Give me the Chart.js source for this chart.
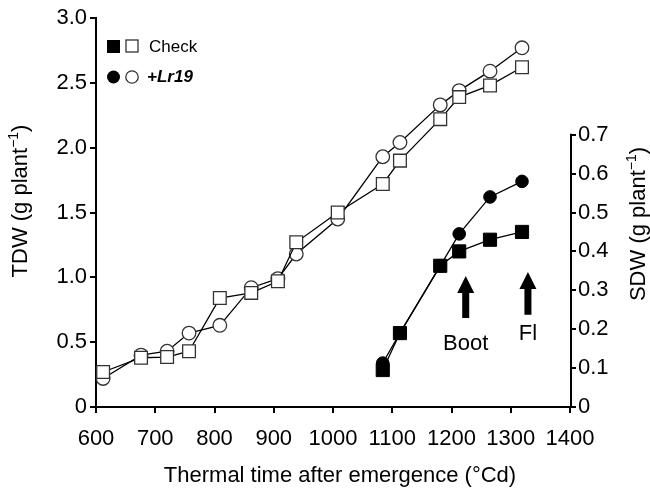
<!DOCTYPE html>
<html lang="en">
<head>
<meta charset="UTF-8">
<title>TDW and SDW</title>
<style>
  html, body { margin: 0; padding: 0; background: #fff; }
  canvas { display: block; }
</style>
</head>
<body>
<canvas id="grafico" width="650" height="488"></canvas>
<script src="https://cdn.jsdelivr.net/npm/chart.js"></script>
<script>
// thermal time (°Cd) of each harvest
const thermalTime = [612, 676, 720, 757, 809, 862, 907, 938, 1008, 1084, 1113, 1181, 1213, 1265, 1319]
// total dry weight, g plant-1 (open symbols, left axis)
const tdwCheck = [0.27, 0.38, 0.385, 0.43, 0.84, 0.88, 0.97, 1.27, 1.50, 1.72, 1.90, 2.22, 2.39, 2.48, 2.62]
const tdwLr19 = [0.22, 0.40, 0.43, 0.57, 0.63, 0.92, 0.99, 1.18, 1.45, 1.93, 2.04, 2.33, 2.44, 2.59, 2.77]

// spike dry weight, g plant-1 (filled symbols, right axis)
const sdwTime = [1084, 1113, 1181, 1213, 1265, 1319]
const sdwCheck = [0.095, 0.19, 0.363, 0.40, 0.43, 0.45]
const sdwLr19 = [0.113, 0.19, 0.363, 0.445, 0.54, 0.58]

// tick labels
const xTicks = [600, 700, 800, 900, 1000, 1100, 1200, 1300, 1400]
const tdwTicks = [0, 0.5, 1.0, 1.5, 2.0, 2.5, 3.0]
const sdwTicks = [0, 0.1, 0.2, 0.3, 0.4, 0.5, 0.6, 0.7]

// stages marked with arrows (x in °Cd, tip/base on the SDW axis)
const stageNames = ['Boot', 'Fl']
const stageTime = [1224, 1329]
const stageTip = [0.337, 0.347]
const stageBase = [0.229, 0.237]

const FONT = '"Liberation Sans", Arial, sans-serif'

function pares(xs, ys) {
    return xs.map((x, i) => ({ x: x, y: ys[i] }))
}

// draws a line of text made of pieces (for the superscript), centred on x
function textoRico(ctx, x, y, partes) {
    let total = 0
    partes.forEach(p => {
        ctx.font = (p.estilo || '') + ' ' + p.tam + 'px ' + FONT
        p.w = ctx.measureText(p.t).width
        total += p.w
    })
    let cx = x - total / 2
    partes.forEach(p => {
        ctx.font = (p.estilo || '') + ' ' + p.tam + 'px ' + FONT
        ctx.fillText(p.t, cx, y + (p.dy || 0))
        cx += p.w
    })
}

function tituloEixo(nome) {
    return [
        { t: nome + ' (g plant', tam: 22 },
        { t: '\u22121', tam: 14, dy: -9 },
        { t: ')', tam: 22 }
    ]
}

const extras = {
    id: 'extras',
    afterDraw(chart) {
        const ctx = chart.ctx
        const x = chart.scales.x
        const y2 = chart.scales.y2
        ctx.save()
        ctx.fillStyle = '#000'
        ctx.strokeStyle = '#000'

        // right axis line only from 0 to 0.7
        ctx.lineWidth = 2
        ctx.beginPath()
        ctx.moveTo(chart.chartArea.right + 1, y2.getPixelForValue(0) + 1)
        ctx.lineTo(chart.chartArea.right + 1, y2.getPixelForValue(0.7) - 1)
        ctx.stroke()

        // axis titles
        ctx.textBaseline = 'alphabetic'
        textoRico(ctx, 340, 482, [{ t: 'Thermal time after emergence (\u00b0Cd)', tam: 22 }])

        ctx.save()
        ctx.translate(27, 201)
        ctx.rotate(-Math.PI / 2)
        textoRico(ctx, 0, 0, tituloEixo('TDW'))
        ctx.restore()

        ctx.save()
        ctx.translate(645, 224)
        ctx.rotate(-Math.PI / 2)
        textoRico(ctx, 0, 0, tituloEixo('SDW'))
        ctx.restore()

        // arrows for the stages
        stageNames.forEach((nome, i) => {
            const px = x.getPixelForValue(stageTime[i])
            const tip = y2.getPixelForValue(stageTip[i])
            const base = y2.getPixelForValue(stageBase[i])
            ctx.beginPath()
            ctx.moveTo(px, tip)
            ctx.lineTo(px + 8.5, tip + 17)
            ctx.lineTo(px + 3.5, tip + 17)
            ctx.lineTo(px + 3.5, base)
            ctx.lineTo(px - 3.5, base)
            ctx.lineTo(px - 3.5, tip + 17)
            ctx.lineTo(px - 8.5, tip + 17)
            ctx.closePath()
            ctx.fill()
            ctx.font = '22px ' + FONT
            ctx.textAlign = 'center'
            ctx.fillText(nome, px, base + (i === 0 ? 32 : 25))
            ctx.textAlign = 'left'
        })

        // legend
        ctx.lineWidth = 1.3
        ctx.strokeStyle = '#333'
        ctx.fillRect(107, 40, 13, 13)
        ctx.fillStyle = '#fff'
        ctx.fillRect(126, 40, 12, 12)
        ctx.strokeRect(126, 40, 12, 12)
        ctx.fillStyle = '#000'
        ctx.beginPath()
        ctx.arc(113.5, 77, 6.5, 0, Math.PI * 2)
        ctx.fill()
        ctx.beginPath()
        ctx.arc(132, 77, 6.2, 0, Math.PI * 2)
        ctx.stroke()
        ctx.textBaseline = 'middle'
        ctx.font = '17px ' + FONT
        ctx.fillText('Check', 149, 47)
        ctx.font = 'italic bold 17px ' + FONT
        ctx.fillText('+Lr19', 147, 77)

        ctx.restore()
    }
}

const linha = { borderColor: '#000', borderWidth: 1.3, showLine: true }
const fonteTick = { family: FONT, size: 22 }

new Chart(document.getElementById('grafico'), {
    type: 'scatter',
    data: {
        datasets: [
            Object.assign({
                label: 'TDW Check', data: pares(thermalTime, tdwCheck), yAxisID: 'y',
                pointStyle: 'rect', pointRadius: 9, pointBackgroundColor: '#fff', pointBorderColor: '#333', pointBorderWidth: 1.3
            }, linha),
            Object.assign({
                label: 'TDW +Lr19', data: pares(thermalTime, tdwLr19), yAxisID: 'y',
                pointStyle: 'circle', pointRadius: 6.8, pointBackgroundColor: '#fff', pointBorderColor: '#333', pointBorderWidth: 1.3
            }, linha),
            Object.assign({
                label: 'SDW +Lr19', data: pares(sdwTime, sdwLr19), yAxisID: 'y2',
                pointStyle: 'circle', pointRadius: 6.3, pointBackgroundColor: '#000', pointBorderColor: '#000', pointBorderWidth: 1
            }, linha),
            Object.assign({
                label: 'SDW Check', data: pares(sdwTime, sdwCheck), yAxisID: 'y2',
                pointStyle: 'rect', pointRadius: 9.3, pointBackgroundColor: '#000', pointBorderColor: '#000', pointBorderWidth: 1
            }, linha)
        ]
    },
    options: {
        responsive: false,
        animation: false,
        layout: { padding: { top: 18 } },
        plugins: { legend: { display: false }, tooltip: { enabled: false } },
        scales: {
            x: {
                type: 'linear', min: 600, max: 1400,
                afterBuildTicks: s => { s.ticks = xTicks.map(v => ({ value: v })) },
                afterFit: s => { s.height = 81 },
                border: { color: '#000', width: 2 },
                grid: { drawOnChartArea: false, color: '#000', lineWidth: 2, tickLength: 6 },
                ticks: { color: '#000', font: fonteTick, padding: 13, maxRotation: 0, autoSkip: false, callback: v => String(v) }
            },
            y: {
                position: 'left', min: 0, max: 3,
                afterBuildTicks: s => { s.ticks = tdwTicks.map(v => ({ value: v })) },
                afterFit: s => { s.width = 96 },
                border: { color: '#000', width: 2 },
                grid: { drawOnChartArea: false, color: '#000', lineWidth: 2, tickLength: 6 },
                ticks: {
                    color: '#000', font: fonteTick, padding: 3,
                    callback: v => v === 0 ? '0' : v.toFixed(1)
                }
            },
            y2: {
                position: 'right', min: 0, max: 1.0,
                afterBuildTicks: s => { s.ticks = sdwTicks.map(v => ({ value: v })) },
                afterFit: s => { s.width = 80 },
                border: { display: false },
                grid: { drawOnChartArea: false, color: '#000', lineWidth: 2, tickLength: 6 },
                ticks: {
                    color: '#000', font: fonteTick, padding: 2,
                    callback: v => v === 0 ? '0' : v.toFixed(1)
                }
            }
        }
    },
    plugins: [extras]
})
</script>
</body>
</html>
